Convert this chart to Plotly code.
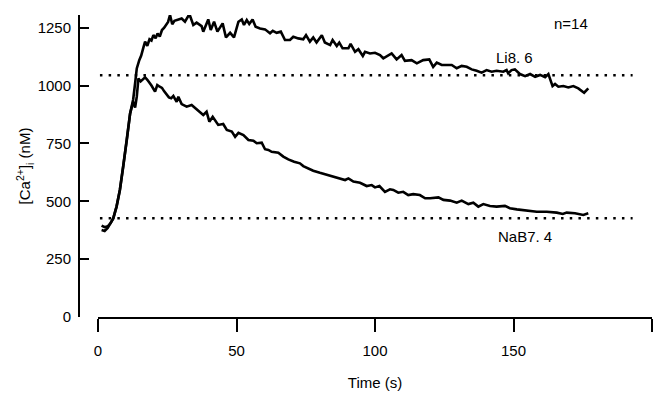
import plotly.graph_objects as go

# ---- data ----
t_li = [1.3, 2.4, 3.5, 4.5, 5.5, 6.7, 7.9, 9.1, 10.4, 11.6, 12.7, 13.4, 14.0, 14.9, 15.6,
        16.4, 17.0, 17.8, 18.6, 19.3, 20.0, 20.8, 21.5, 22.3, 23.1, 23.9, 24.6, 25.3, 26.0,
        26.8, 27.6, 28.4, 30.2, 31.4, 33.0, 34.4, 35.6, 37.4, 38.0, 39.8, 40.7, 41.9, 43.1,
        45.0, 46.2, 47.7, 49.1, 50.7, 51.9, 52.7, 53.7, 54.6, 55.8, 56.9, 58.5, 60.3, 62.1,
        63.1, 64.5, 66.0, 67.5, 69.3, 70.5, 72.3, 74.1, 75.1, 76.5, 77.7, 78.9, 80.8, 81.9,
        83.8, 84.7, 86.2, 87.1, 88.3, 90.4, 91.2, 92.8, 94.0, 95.6, 96.4, 98.2, 100.0, 101.8,
        103.0, 104.2, 106.0, 107.8, 109.6, 110.8, 113.2, 115.1, 117.4, 119.6, 121.0, 122.3,
        124.1, 125.9, 127.7, 129.5, 131.3, 133.1, 134.9, 136.7, 138.5, 140.3, 142.1, 143.9,
        146.3, 147.5, 148.1, 149.3, 150.5, 152.3, 154.2, 156.0, 157.8, 159.6, 161.4, 162.6,
        163.4, 164.1, 165.0, 166.2, 168.0, 169.8, 171.6, 173.4, 175.5, 177.0]
ca_li = [395, 388, 392, 405, 426, 477, 549, 649, 765, 880, 940, 1010, 1074, 1110, 1130,
         1165, 1190, 1172, 1200, 1195, 1218, 1205, 1225, 1212, 1240, 1250, 1262, 1275, 1305,
         1265, 1280, 1283, 1290, 1276, 1309, 1262, 1272, 1257, 1233, 1286, 1240, 1276, 1233,
         1269, 1208, 1228, 1208, 1276, 1286, 1262, 1283, 1266, 1286, 1254, 1247, 1243, 1226,
         1237, 1228, 1233, 1197, 1197, 1211, 1204, 1200, 1218, 1190, 1208, 1186, 1218, 1186,
         1175, 1197, 1171, 1186, 1161, 1161, 1180, 1146, 1157, 1128, 1146, 1139, 1142, 1132,
         1118, 1125, 1139, 1113, 1132, 1107, 1110, 1096, 1110, 1113, 1081, 1099,
         1089, 1089, 1089, 1075, 1085, 1081, 1070, 1064, 1056, 1067, 1060, 1064,
         1060, 1067, 1053, 1067, 1070, 1050, 1041, 1050, 1038, 1046, 1036, 1050,
         1024, 998, 1007, 995, 998, 992, 998, 988, 969, 988]

t_na = [1.3, 2.4, 3.5, 4.5, 5.5, 6.7, 7.9, 9.1, 10.4, 11.6, 12.7, 13.4, 14.0, 14.6, 15.4,
        16.1, 17.0, 17.8, 18.5, 19.3, 20.6, 21.4, 22.3, 23.1, 23.9, 24.8, 25.6, 26.4, 27.2,
        28.4, 29.0, 30.2, 32.0, 33.8, 35.6, 38.0, 39.2, 40.2, 41.4, 43.4, 45.2, 46.5, 48.3,
        49.5, 50.7, 52.5, 54.3, 56.1, 57.3, 59.1, 60.3, 61.5, 62.7, 65.1, 66.9, 68.7, 70.8,
        72.9, 74.1, 75.9, 77.7, 80.1, 82.6, 84.9, 87.4, 89.2, 90.4, 92.2, 94.6, 97.0, 98.8,
        100.0, 101.6, 103.6, 105.4, 106.6, 108.4, 110.2, 112.0, 113.8, 116.2, 118.1, 119.9,
        122.9, 124.7, 127.1, 129.5, 131.3, 133.7, 135.5, 137.3, 139.1, 141.5, 143.9, 146.9,
        148.7, 151.2, 154.8, 158.4, 162.0, 165.6, 167.8, 169.2, 172.2, 175.2, 177.0]
ca_na = [376, 372, 385, 405, 426, 477, 549, 649, 765, 880, 930, 905, 952, 1031, 1018,
         1025, 1036, 1025, 1015, 1000, 974, 1002, 995, 990, 975, 960, 949, 945, 955,
         930, 952, 920, 909, 916, 897, 873, 887, 844, 865, 830, 834, 808, 801,
         779, 796, 786, 765, 762, 751, 753, 725, 722, 714, 710, 693, 681, 671,
         664, 652, 642, 632, 623, 614, 606, 599, 592, 599, 585, 580, 566, 570,
         560, 566, 541, 552, 549, 537, 541, 527, 531, 527, 513, 513,
         517, 506, 503, 494, 503, 488, 494, 477, 488, 480, 477, 480,
         470, 465, 459, 455, 455, 451, 445, 451, 448, 441, 448]

baseline_t = [0.7, 193]
baseline_li = 1045
baseline_na = 427

x_tickvals = [0, 50, 100, 150]
x_extra_ticks = [200]          # tick mark without label at the axis end
y_tickvals = [0, 250, 500, 750, 1000, 1250]

FONT = "Liberation Sans, Arial, sans-serif"

fig = go.Figure()
fig.add_trace(go.Scatter(x=baseline_t, y=[baseline_li] * 2, mode="lines",
                         line=dict(color="black", width=2.5, dash="2.5px,6.2px"),
                         showlegend=False, hoverinfo="skip"))
fig.add_trace(go.Scatter(x=baseline_t, y=[baseline_na] * 2, mode="lines",
                         line=dict(color="black", width=2.5, dash="2.5px,6.2px"),
                         showlegend=False, hoverinfo="skip"))
fig.add_trace(go.Scatter(x=t_li, y=ca_li, mode="lines", name="Li8. 6",
                         line=dict(color="black", width=2.6), showlegend=False))
fig.add_trace(go.Scatter(x=t_na, y=ca_na, mode="lines", name="NaB7. 4",
                         line=dict(color="black", width=2.6), showlegend=False))

L, R, T, B = 60, 2, 15, 77
W, H = 654, 394
pw = W - L - R
ph = H - T - B

fig.update_layout(
    width=W, height=H,
    margin=dict(l=L, r=R, t=T, b=B, pad=0, autoexpand=False),
    paper_bgcolor="white", plot_bgcolor="white",
    font=dict(family=FONT, size=15, color="black"),
    xaxis=dict(
        domain=[(98 - L) / pw, 1], range=[0, 200],
        tickvals=x_tickvals,
        showline=True, linecolor="black", linewidth=2,
        ticks="outside", ticklen=13, tickwidth=2, tickcolor="black",
        ticklabelstandoff=6,
        minor=dict(tickvals=x_extra_ticks, ticks="outside", ticklen=13, tickwidth=2,
                   tickcolor="black", showgrid=False),
        showgrid=False, zeroline=False, automargin=False,
        title=dict(text="Time (s)", font=dict(size=15), standoff=19),
    ),
    yaxis=dict(
        anchor="free", position=(79 - L) / pw, range=[0, 1305],
        tickvals=y_tickvals,
        showline=True, linecolor="black", linewidth=2,
        ticks="inside", ticklen=9, tickwidth=2, tickcolor="black",
        ticklabelstandoff=4,
        showgrid=False, zeroline=False, automargin=False,
        title=dict(text="[Ca<sup>2+</sup>]<sub>i</sub> (nM)", font=dict(size=15), standoff=2),
    ),
    annotations=[
        dict(x=150.5, y=1123, xref="x", yref="y", text="Li8. 6", showarrow=False,
             font=dict(size=15)),
        dict(x=154.2, y=346, xref="x", yref="y", text="NaB7. 4", showarrow=False,
             font=dict(size=15)),
        dict(x=(590 - L) / pw, y=(317 - 13) / ph, xref="paper", yref="paper",
             text="n=14", showarrow=False, font=dict(size=15)),
    ],
)

fig.write_html(
    "out.html",
    config={"displayModeBar": False},
    post_script="document.body.style.margin='0';document.body.style.padding='0';",
)
